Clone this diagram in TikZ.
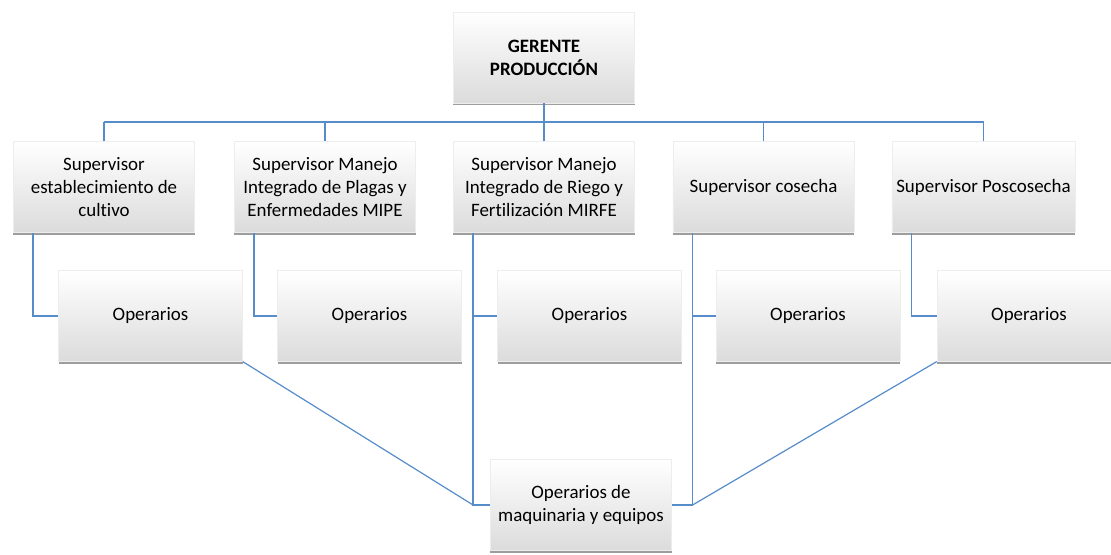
\documentclass[tikz,border=0pt]{standalone}
\usepackage{fontspec}
\setmainfont{Carlito}[Ligatures=NoCommon]
\usetikzlibrary{calc,shadows}
\definecolor{linkblue}{RGB}{86,140,202}
\tikzset{
  box/.style={rectangle,minimum width=136pt,minimum height=68pt,align=center,
    top color=white,middle color=white!96!black,bottom color=black!14,draw=black!7,
    font=\fontsize{14.2}{17.2}\selectfont,
    drop shadow={shadow xshift=0pt,shadow yshift=-1.8pt,opacity=.55,fill=black!70}},
  link/.style={draw=linkblue,line width=.9pt}
}
\begin{document}
\begin{tikzpicture}[x=.75pt,y=-.75pt]
    \useasboundingbox (0,0) rectangle (1111,554);
    \coordinate (bus) at (0,122);
    \node[box,font=\fontsize{14.2}{17.2}\selectfont\bfseries] (G) at (544,57.5) {GERENTE\\PRODUCCIÓN};
    \node[box] (S1) at (104,187) {Supervisor\\establecimiento de\\cultivo};
    \node[box] (S2) at (325,187) {Supervisor Manejo\\Integrado de Plagas y\\Enfermedades MIPE};
    \node[box] (S3) at (544,187) {Supervisor Manejo\\Integrado de Riego y\\Fertilización MIRFE};
    \node[box] (S4) at (763.5,187) {Supervisor cosecha};
    \node[box] (S5) at (983.5,187) {Supervisor Poscosecha};
    \node[box] (M) at (581,505) {Operarios de\\maquinaria y equipos};
    \draw[link] (G.south) -- (G.south |- bus);
    \draw[link] (S1.north |- bus) -- (S5.north |- bus);
    \foreach \x [count=\i] in {150.5,369.5,589.5,808,1029} {
        \node[box,minimum width=138pt] (O\i) at (\x,316) {Operarios};
        \draw[link] (S\i.north) -- (S\i.north |- bus);
        \draw[link] ($(S\i.south west)+(20,0)$) |- (O\i.west);
      }
    \coordinate (d3) at ($(S3.south west)+(20,0)$);
    \coordinate (d4) at ($(S4.south west)+(20,0)$);
    \draw[link] (d3) |- (M.west);
    \draw[link] (d4) |- (M.east);
    \draw[link] (O1.south east) -- (d3 |- M.west);
    \draw[link] (O5.south west) -- (d4 |- M.east);
  \end{tikzpicture}
\end{document}
